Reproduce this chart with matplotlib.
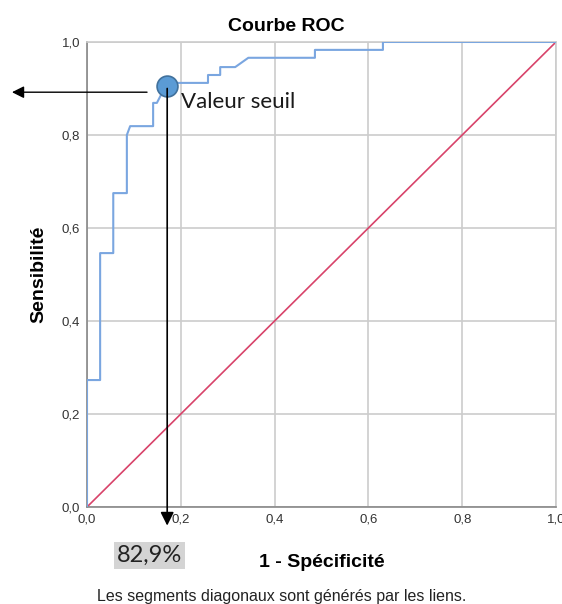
import matplotlib
matplotlib.use("Agg")
import matplotlib.pyplot as plt

# ── Data ──────────────────────────────────────────────────────────────────────

fpr = [0.0, 0.0, 0.028, 0.028, 0.056, 0.056, 0.085, 0.085, 0.092, 0.141, 0.141,
       0.149, 0.171, 0.258, 0.258, 0.284, 0.284, 0.316, 0.344, 0.486, 0.486,
       0.631, 0.631, 1.0]
tpr = [0.0, 0.273, 0.273, 0.546, 0.546, 0.675, 0.675, 0.800, 0.819, 0.819, 0.869,
       0.869, 0.912, 0.912, 0.929, 0.929, 0.946, 0.946, 0.966, 0.966, 0.983,
       0.983, 1.0, 1.0]

threshold_x = 0.171
threshold_y = 0.905
threshold_label = "Valeur seuil"
threshold_value = "82,9%"

ticks = [0.0, 0.2, 0.4, 0.6, 0.8, 1.0]
tick_labels = ["0,0", "0,2", "0,4", "0,6", "0,8", "1,0"]

# ── Figure ────────────────────────────────────────────────────────────────────

plt.rcParams["font.family"] = ["Liberation Sans", "DejaVu Sans"]

fig = plt.figure(figsize=(5.62, 6.04), dpi=100)
ax = fig.add_axes([0.1548, 0.1606, 0.8345, 0.7699])

ax.set_xlim(0, 1)
ax.set_ylim(0, 1)

ax.plot([0, 1], [0, 1], color="#d8436a", linewidth=1.2, zorder=2)
ax.plot(fpr, tpr, color="#7aa6e0", linewidth=1.5, zorder=3)

# threshold point
ax.plot(threshold_x, threshold_y, "o", markersize=15,
        markerfacecolor="#5b9bd5", markeredgecolor="#41719c",
        markeredgewidth=1.2, zorder=5)

# vertical arrow down to the x axis
ax.annotate("", xy=(threshold_x, -0.04),
            xytext=(threshold_x, threshold_y - 0.005),
            xycoords="data", textcoords="data", annotation_clip=False,
            arrowprops=dict(arrowstyle="-|>", color="black", lw=1.2,
                            mutation_scale=20, shrinkA=0, shrinkB=0),
            zorder=6)

# horizontal arrow to the left
ax.annotate("", xy=(-0.16, 0.892), xytext=(0.128, 0.892),
            xycoords="data", textcoords="data", annotation_clip=False,
            arrowprops=dict(arrowstyle="-|>", color="black", lw=1.0,
                            mutation_scale=18, shrinkA=0, shrinkB=0),
            zorder=6)

ax.text(threshold_x + 0.03, 0.872, threshold_label, fontsize=16,
        family=["Lato", "DejaVu Sans"], color="#1a1a1a", va="center",
        ha="left", zorder=6)

# axes styling
ax.set_xticks(ticks)
ax.set_yticks(ticks)
ax.set_xticklabels(tick_labels)
ax.set_yticklabels(tick_labels)
ax.tick_params(labelsize=9.5, colors="#333333", length=0, pad=5)
ax.grid(True, color="#cccccc", linewidth=1.2)
ax.set_axisbelow(True)
for side in ["top", "right"]:
    ax.spines[side].set_color("#cccccc")
    ax.spines[side].set_linewidth(1.2)
for side in ["left", "bottom"]:
    ax.spines[side].set_color("#888888")
    ax.spines[side].set_linewidth(1.2)

ax.set_title("Courbe ROC", fontsize=14, fontweight="bold", x=0.426, pad=8)
ax.set_ylabel("Sensibilité", fontsize=14, fontweight="bold", labelpad=10)
ax.set_xlabel("1 - Spécificité", fontsize=14, fontweight="bold", labelpad=20)

fig.text(0.266, 0.080, threshold_value, fontsize=17,
         family=["Lato", "DejaVu Sans"], color="#222222",
         ha="center", va="center",
         bbox=dict(boxstyle="square,pad=0.12", facecolor="#d4d4d4",
                   edgecolor="none"))

fig.text(0.502, 0.013, "Les segments diagonaux sont générés par les liens.",
         fontsize=11.5, color="#222222", ha="center", va="center")

fig.savefig("out.png", dpi=100)
